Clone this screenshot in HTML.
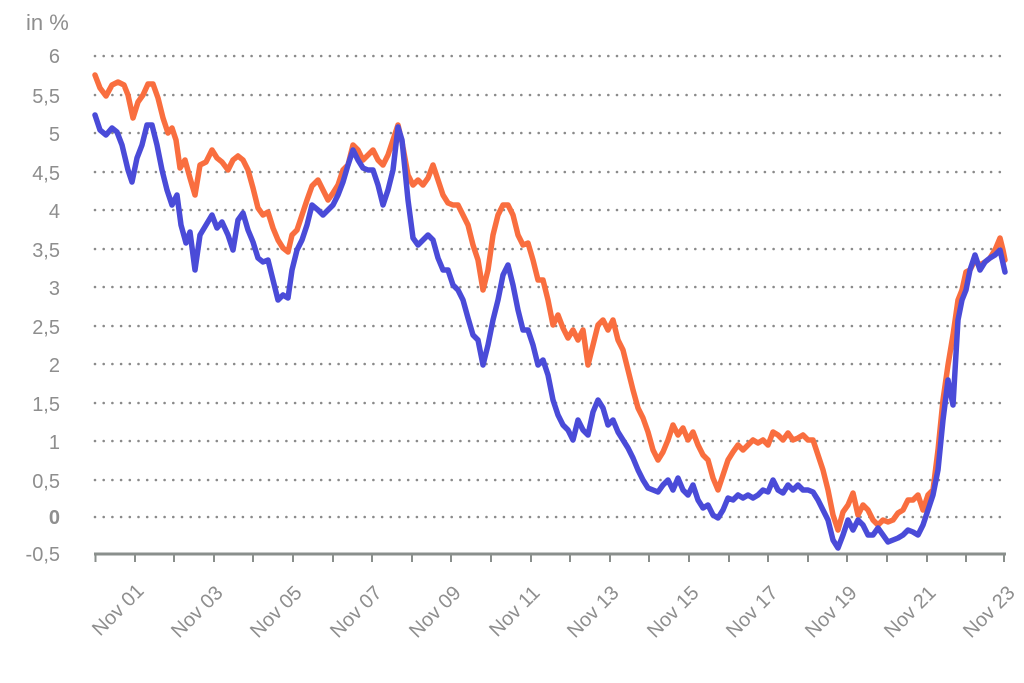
<!DOCTYPE html>
<html><head><meta charset="utf-8"><style>
html,body{margin:0;padding:0;background:#fff}
svg{display:block;font-family:"Liberation Sans",sans-serif}
</style></head><body>
<svg width="1024" height="683" viewBox="0 0 1024 683">
<text x="26" y="30" font-size="22" fill="#8e8e8e">in %</text>
<g font-size="20" fill="#8e8e8e" text-anchor="end">
<text x="60" y="63">6</text><text x="60" y="103">5,5</text><text x="60" y="141">5</text><text x="60" y="180">4,5</text><text x="60" y="218">4</text><text x="60" y="257">3,5</text><text x="60" y="295">3</text><text x="60" y="334">2,5</text><text x="60" y="372">2</text><text x="60" y="411">1,5</text><text x="60" y="449">1</text><text x="60" y="488">0,5</text><text x="60" y="524" font-weight="bold">0</text><text x="60" y="561">-0,5</text>
</g>
<g stroke="#8a8a8a" stroke-width="2.6" stroke-dasharray="0 8.7" stroke-linecap="round">
<line x1="95" y1="56" x2="1006" y2="56"/><line x1="95" y1="95" x2="1006" y2="95"/><line x1="95" y1="133" x2="1006" y2="133"/><line x1="95" y1="172" x2="1006" y2="172"/><line x1="95" y1="210" x2="1006" y2="210"/><line x1="95" y1="249" x2="1006" y2="249"/><line x1="95" y1="287" x2="1006" y2="287"/><line x1="95" y1="326" x2="1006" y2="326"/><line x1="95" y1="364" x2="1006" y2="364"/><line x1="95" y1="403" x2="1006" y2="403"/><line x1="95" y1="441" x2="1006" y2="441"/><line x1="95" y1="480" x2="1006" y2="480"/><line x1="95" y1="517" x2="1006" y2="517"/>
</g>
<line x1="94" y1="554" x2="1006" y2="554" stroke="#8a8f8c" stroke-width="3"/>
<g stroke="#8a8f8c" stroke-width="2">
<line x1="95.5" y1="554" x2="95.5" y2="562"/><line x1="135" y1="554" x2="135" y2="562"/><line x1="174" y1="554" x2="174" y2="562"/><line x1="214" y1="554" x2="214" y2="562"/><line x1="253" y1="554" x2="253" y2="562"/><line x1="293" y1="554" x2="293" y2="562"/><line x1="333" y1="554" x2="333" y2="562"/><line x1="372" y1="554" x2="372" y2="562"/><line x1="412" y1="554" x2="412" y2="562"/><line x1="451" y1="554" x2="451" y2="562"/><line x1="491" y1="554" x2="491" y2="562"/><line x1="531" y1="554" x2="531" y2="562"/><line x1="570" y1="554" x2="570" y2="562"/><line x1="610" y1="554" x2="610" y2="562"/><line x1="649" y1="554" x2="649" y2="562"/><line x1="689" y1="554" x2="689" y2="562"/><line x1="729" y1="554" x2="729" y2="562"/><line x1="768" y1="554" x2="768" y2="562"/><line x1="808" y1="554" x2="808" y2="562"/><line x1="847" y1="554" x2="847" y2="562"/><line x1="887" y1="554" x2="887" y2="562"/><line x1="927" y1="554" x2="927" y2="562"/><line x1="966" y1="554" x2="966" y2="562"/><line x1="1004" y1="554" x2="1004" y2="562"/>
</g>
<g font-size="20" fill="#8e8e8e" text-anchor="end">
<text transform="translate(145,592) rotate(-45)">Nov 01</text>
<text transform="translate(224,594) rotate(-45)">Nov 03</text>
<text transform="translate(303,594) rotate(-45)">Nov 05</text>
<text transform="translate(383,594) rotate(-45)">Nov 07</text>
<text transform="translate(462,594) rotate(-45)">Nov 09</text>
<text transform="translate(541,594) rotate(-45)">Nov 11</text>
<text transform="translate(620,594) rotate(-45)">Nov 13</text>
<text transform="translate(700,594) rotate(-45)">Nov 15</text>
<text transform="translate(779,594) rotate(-45)">Nov 17</text>
<text transform="translate(858,594) rotate(-45)">Nov 19</text>
<text transform="translate(937,594) rotate(-45)">Nov 21</text>
<text transform="translate(1016,594) rotate(-45)">Nov 23</text>
</g>
<polyline fill="none" stroke="#f96e3f" stroke-width="5.5" stroke-linejoin="round" stroke-linecap="round" points="95,75 100,88 106,96 112,85 118,82 124,85 128,95 133,118 138,102 143,95 148,84 153,84 158,98 163,118 168,133 172,128 176,140 180,168 185,160 190,178 195,195 200,165 206,162 212,150 217,158 222,162 228,170 233,160 238,156 243,160 248,170 253,188 258,208 263,215 268,212 273,228 278,240 283,248 288,252 292,235 297,230 302,215 307,200 312,186 318,180 323,190 328,200 333,193 338,185 343,170 348,165 353,145 358,150 363,160 368,155 373,150 378,160 383,165 388,155 393,140 398,125 402,142 408,175 413,185 418,180 423,185 428,178 433,165 438,180 443,195 448,203 453,205 458,205 463,215 468,225 473,245 478,260 483,290 488,270 493,235 498,215 503,205 508,205 513,215 518,235 523,245 528,243 533,260 538,280 543,280 548,300 553,325 558,315 563,328 568,338 573,330 578,340 583,330 588,365 593,345 598,325 603,320 608,330 613,320 618,340 623,350 628,370 633,390 638,408 643,418 648,432 653,450 658,460 663,452 668,440 673,425 678,435 683,428 688,440 693,432 698,445 703,455 708,460 713,478 718,490 723,475 728,460 733,452 738,445 743,450 748,445 753,440 758,443 763,440 768,445 773,432 778,435 783,440 788,433 793,440 798,438 803,435 808,440 813,440 818,455 823,470 828,490 833,515 838,530 843,512 848,505 853,493 858,515 863,505 868,510 873,520 878,525 883,520 888,522 893,520 898,513 903,510 908,500 913,500 918,495 923,510 928,495 933,490 938,450 943,400 948,365 953,335 958,300 962,290 966,272 970,270 975,260 980,265 985,262 990,258 995,250 1000,238 1003,250 1005,260"/>
<polyline fill="none" stroke="#4a4bd8" stroke-width="5.5" stroke-linejoin="round" stroke-linecap="round" points="95,115 100,130 106,135 112,128 117,132 122,145 128,170 132,182 137,158 142,145 147,125 152,125 157,145 162,170 167,190 172,205 177,195 181,225 186,243 190,232 195,270 200,235 206,225 212,215 217,228 222,222 228,235 233,250 238,220 243,213 248,230 253,242 258,258 263,262 268,260 273,280 278,300 283,295 288,298 292,270 297,250 302,240 307,225 312,205 318,210 323,215 328,210 333,205 338,195 343,182 348,165 353,150 358,160 363,168 368,170 373,170 378,185 383,205 388,190 393,170 398,127 402,140 408,200 413,238 418,245 423,240 428,235 433,240 438,258 443,270 448,270 453,285 458,290 463,300 468,318 473,335 478,340 483,365 488,345 493,320 498,300 503,275 508,265 513,285 518,310 523,330 528,330 533,345 538,365 543,360 548,375 553,400 558,415 563,425 568,430 573,440 578,420 583,430 588,435 593,412 598,400 603,408 608,425 613,420 618,432 623,440 628,448 633,458 638,470 643,480 648,488 653,490 658,492 663,485 668,480 673,490 678,478 683,490 688,495 693,485 698,500 703,508 708,505 713,515 718,518 723,510 728,498 733,500 738,495 743,498 748,495 753,498 758,495 763,490 768,492 773,480 778,490 783,493 788,485 793,490 798,485 803,490 808,490 813,492 818,500 823,510 828,520 833,540 838,548 843,535 848,520 853,530 858,520 863,525 868,535 873,535 878,528 883,535 888,542 893,540 898,538 903,535 908,530 913,532 918,535 923,525 928,510 933,495 938,470 943,420 948,380 953,405 958,320 962,300 966,290 970,270 975,255 980,270 985,262 990,258 995,255 1000,250 1005,272"/>
</svg>
</body></html>
